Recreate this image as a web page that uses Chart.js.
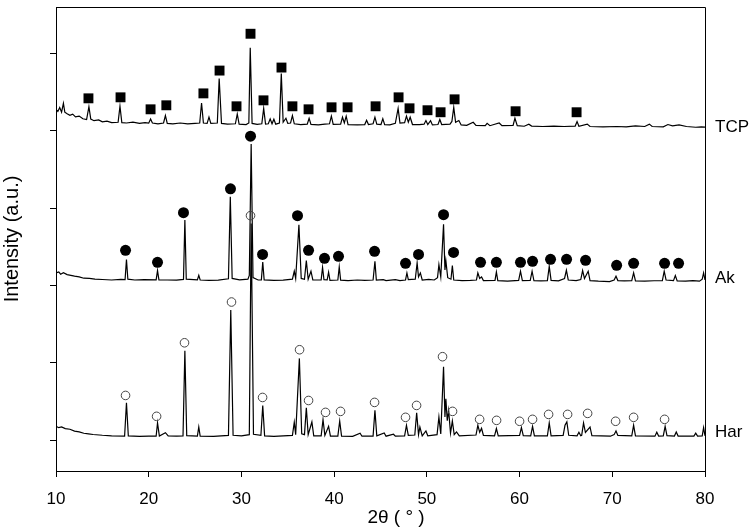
<!DOCTYPE html>
<html>
<head>
<meta charset="utf-8">
<script src="https://cdn.jsdelivr.net/npm/chart.js@4"></script>
<style>
  body { margin: 0; background: #fff; }
  canvas { display: block; }
</style>
</head>
<body>
<canvas id="xrd" width="754" height="530"></canvas>
<script>
// XRD patterns: [2theta, intensity (a.u.)]
const harPattern = [[10,578],[10.3,560],[10.6,570],[11,548],[11.5,540],[12,515],[12.5,505],[13,488],[13.5,480],[14,472],[15,462],[16,455],[17.4,452],[17.6,883],[17.8,455],[19,448],[20,452],[20.8,450],[20.95,621],[21.15,452],[21.8,495],[22.1,455],[23,450],[23.7,455],[23.9,1555],[24.1,458],[25.25,452],[25.4,570],[25.55,450],[27,448],[28.6,460],[28.85,2082],[29.1,462],[30,455],[30.85,470],[31.05,3200],[31.3,475],[32.1,460],[32.3,848],[32.5,455],[33.5,448],[35.5,460],[35.7,630],[35.85,470],[36.25,1456],[36.5,480],[36.8,470],[37.0,818],[37.2,470],[37.6,634],[37.8,455],[38.6,455],[38.8,664],[39.0,460],[39.4,578],[39.6,452],[40.4,452],[40.6,646],[40.8,452],[42,448],[42.8,488],[43,450],[44.2,452],[44.4,784],[44.6,455],[45.4,492],[45.6,450],[46.4,475],[46.6,450],[47.6,455],[47.8,591],[48,460],[48.7,465],[48.9,754],[49.1,470],[49.25,569],[49.5,455],[49.9,518],[50.1,455],[51.1,470],[51.3,698],[51.5,480],[51.8,1349],[51.95,700],[52.05,934],[52.2,650],[52.35,784],[52.55,490],[52.75,646],[52.95,470],[53.2,505],[53.5,455],[55.3,465],[55.5,591],[55.7,500],[55.9,553],[56.1,460],[57.3,455],[57.5,549],[57.7,455],[60,460],[60.2,561],[60.4,458],[61.2,455],[61.4,578],[61.6,455],[63,455],[63.2,621],[63.4,455],[64.7,460],[64.9,591],[65.1,634],[65.3,462],[66.2,455],[66.4,501],[66.6,455],[66.7,460],[66.9,621],[67.1,500],[67.6,569],[67.8,458],[69.8,450],[70.2,470],[70.4,518],[70.6,460],[72.1,455],[72.3,591],[72.5,455],[74.6,450],[74.8,501],[75,452],[75.5,455],[75.7,578],[75.9,458],[76.7,452],[76.9,505],[77.1,452],[78.8,452],[79.0,490],[79.2,452],[79.7,455],[79.85,561],[80,455]];

const akPattern = [[10,2561],[10.3,2575],[10.5,2545],[10.8,2565],[11.2,2540],[11.6,2530],[12,2519],[12.5,2510],[13,2493],[13.6,2490],[14.2,2480],[15,2476],[16,2470],[17.0,2478],[17.45,2476],[17.6,2733],[17.75,2480],[18.5,2470],[19.5,2475],[20.8,2472],[20.95,2592],[21.1,2472],[22.0,2470],[23.0,2468],[23.75,2478],[23.9,3247],[24.05,2480],[25.25,2472],[25.4,2531],[25.55,2470],[26.5,2465],[27.5,2468],[28.6,2485],[28.8,3547],[29.0,2490],[29.8,2472],[30.7,2480],[30.85,2530],[31.05,4228],[31.25,2500],[31.8,2470],[32.15,2472],[32.3,2702],[32.45,2472],[33.5,2465],[34.5,2468],[35.5,2480],[35.7,2583],[35.85,2490],[36.2,3183],[36.45,2490],[36.8,2480],[37.0,2720],[37.2,2480],[37.5,2583],[37.7,2470],[38.6,2472],[38.75,2634],[38.9,2475],[39.25,2472],[39.4,2570],[39.55,2465],[40.4,2470],[40.55,2638],[40.7,2468],[41.5,2462],[42.5,2470],[43.3,2465],[44.2,2470],[44.4,2711],[44.55,2468],[45.3,2475],[45.6,2462],[46.6,2475],[47.1,2462],[47.7,2470],[47.85,2561],[48.0,2475],[48.75,2480],[48.95,2690],[49.1,2510],[49.3,2561],[49.5,2470],[50.2,2478],[50.8,2470],[51.15,2500],[51.3,2669],[51.5,2510],[51.8,3191],[51.95,2600],[52.05,2720],[52.25,2500],[52.6,2480],[52.75,2656],[52.9,2470],[53.8,2462],[54.7,2465],[55.35,2470],[55.5,2561],[55.7,2490],[55.9,2510],[56.1,2462],[57.35,2465],[57.5,2574],[57.65,2462],[58.7,2455],[59.9,2465],[60.1,2583],[60.3,2462],[61.15,2465],[61.35,2583],[61.55,2460],[62.3,2458],[63.0,2462],[63.2,2647],[63.4,2465],[64.2,2458],[64.85,2490],[65.05,2596],[65.25,2470],[66.1,2462],[66.6,2475],[66.8,2592],[67.0,2490],[67.4,2583],[67.6,2462],[68.5,2455],[69.7,2450],[70.2,2470],[70.4,2519],[70.6,2462],[71.3,2458],[72.1,2462],[72.3,2561],[72.5,2458],[73.5,2455],[74.5,2460],[75.4,2462],[75.6,2583],[75.8,2470],[76.6,2462],[76.8,2528],[77.0,2458],[77.9,2455],[78.7,2462],[79.4,2455],[79.7,2480],[79.85,2561],[80,2470]];

const tcpPattern = [[10,4677],[10.2,4650],[10.4,4700],[10.6,4640],[10.8,4755],[10.95,4640],[11.2,4620],[11.5,4600],[11.8,4615],[12.1,4580],[12.5,4590],[12.9,4555],[13.3,4545],[13.55,4712],[13.75,4550],[14.1,4530],[14.6,4540],[15,4515],[15.5,4525],[16,4505],[16.7,4510],[16.9,4716],[17.1,4505],[17.6,4500],[18.3,4510],[19,4495],[19.6,4505],[20.0,4498],[20.2,4553],[20.4,4500],[21.0,4490],[21.6,4500],[21.8,4597],[22.0,4495],[22.6,4490],[23.4,4500],[24.2,4488],[25.0,4495],[25.5,4500],[25.7,4758],[25.9,4500],[26.3,4495],[26.5,4575],[26.7,4495],[27.4,4500],[27.6,5076],[27.85,4495],[28.5,4485],[29.35,4490],[29.55,4617],[29.75,4485],[30.5,4480],[30.8,4500],[30.95,5474],[31.15,4495],[31.7,4482],[32.2,4490],[32.4,4690],[32.6,4485],[32.9,4490],[33.1,4553],[33.3,4490],[33.5,4549],[33.7,4485],[34.1,4500],[34.3,5140],[34.5,4510],[34.8,4562],[35.0,4495],[35.3,4500],[35.5,4597],[35.7,4490],[36.4,4480],[37.1,4485],[37.3,4562],[37.5,4482],[38.3,4475],[39.0,4485],[39.5,4490],[39.7,4588],[39.9,4482],[40.7,4485],[40.9,4575],[41.1,4500],[41.3,4588],[41.5,4480],[42.5,4475],[43.3,4480],[43.5,4536],[43.7,4480],[44.2,4490],[44.4,4575],[44.6,4485],[45.05,4480],[45.25,4555],[45.45,4478],[46.0,4475],[46.6,4495],[46.9,4690],[47.1,4500],[47.6,4505],[47.8,4588],[48.0,4510],[48.2,4575],[48.45,4480],[49.2,4478],[49.7,4485],[49.9,4532],[50.1,4480],[50.4,4530],[50.6,4475],[51.2,4480],[51.4,4545],[51.6,4480],[52.5,4485],[52.7,4520],[52.9,4703],[53.1,4510],[53.45,4532],[53.7,4475],[54.3,4470],[55.0,4510],[55.3,4470],[56.3,4465],[56.5,4495],[56.8,4465],[57.8,4500],[58.1,4465],[59.3,4468],[59.5,4562],[59.75,4465],[60.5,4458],[61.0,4485],[61.3,4460],[62.5,4455],[63.7,4460],[64.8,4455],[66.0,4460],[66.2,4519],[66.4,4458],[67.3,4485],[67.6,4455],[69.0,4450],[70.5,4455],[71.5,4450],[72.5,4462],[73.5,4455],[74.0,4485],[74.3,4455],[75.5,4450],[76.0,4480],[76.5,4462],[77.2,4475],[78.0,4455],[79.0,4445],[79.6,4450],[80,4446]];

// phase markers above the peaks
const harMarks = [[17.5,977],[20.85,707],[23.86,1658],[28.93,2185],[30.98,3302],[32.28,951],[36.27,1568],[37.24,912],[39.07,758],[40.69,771],[44.36,887],[47.7,694],[48.89,848],[51.69,1478],[52.77,771],[55.69,668],[57.52,655],[60.0,643],[61.4,668],[63.13,732],[65.18,732],[67.34,745],[70.36,643],[72.3,694],[75.64,668]];
const akMarks = [[17.5,2853],[20.95,2699],[23.75,3341],[28.82,3649],[30.98,4330],[32.28,2801],[36.05,3302],[37.24,2853],[38.96,2750],[40.47,2776],[44.36,2840],[47.7,2686],[49.1,2801],[51.8,3315],[52.88,2827],[55.79,2699],[57.5,2699],[60.1,2699],[61.4,2711],[63.34,2737],[65.07,2737],[67.12,2724],[70.47,2660],[72.3,2686],[75.64,2686],[77.15,2686]];
const tcpMarks = [[13.5,4819],[16.96,4832],[20.2,4677],[21.9,4729],[25.9,4883],[27.64,5178],[29.47,4716],[30.98,5654],[32.38,4793],[34.32,5217],[35.5,4716],[37.24,4677],[39.72,4703],[41.45,4703],[44.47,4716],[46.95,4832],[48.13,4690],[50.07,4665],[51.48,4639],[52.99,4806],[59.57,4652],[66.15,4639]];

const sampleNames = ['TCP', 'Ak', 'Har'];
const sampleLevels = [4446, 2486, 501];
const yTickValues = [400, 1400, 2400, 3400, 4400, 5400];

const FONT = '"Liberation Sans", Arial, sans-serif';

function toXY(arr) {
    return arr.map(p => ({ x: p[0], y: p[1] }));
}

function traceSet(arr) {
    return {
        data: toXY(arr),
        showLine: true,
        borderColor: '#000',
        borderWidth: 1.2,
        pointRadius: 0,
        tension: 0
    };
}

// frame, sample names and x title
const extrasPlugin = {
    id: 'extras',
    afterDraw(chart) {
        const ctx = chart.ctx;
        const a = chart.chartArea;
        const y = chart.scales.y;
        ctx.save();
        ctx.strokeStyle = '#000';
        ctx.lineWidth = 1;
        ctx.beginPath();
        ctx.moveTo(Math.round(a.left) + 0.5, Math.round(a.top) + 0.5);
        ctx.lineTo(Math.round(a.right) + 0.5, Math.round(a.top) + 0.5);
        ctx.lineTo(Math.round(a.right) + 0.5, Math.round(a.bottom) + 0.5);
        ctx.stroke();

        ctx.fillStyle = '#000';
        ctx.font = '17px ' + FONT;
        ctx.textAlign = 'left';
        ctx.textBaseline = 'middle';
        sampleNames.forEach((name, i) => {
            ctx.fillText(name, a.right + 10, y.getPixelForValue(sampleLevels[i]));
        });

        ctx.font = '19px ' + FONT;
        ctx.textAlign = 'center';
        ctx.fillText('2θ ( ° )', 396, 518);
        ctx.restore();
    }
};

const chart = new Chart(document.getElementById('xrd'), {
    type: 'scatter',
    data: {
        datasets: [
            { data: toXY(tcpMarks), pointStyle: 'rect', pointRadius: 7, backgroundColor: '#000', borderColor: '#000', borderWidth: 0 },
            { data: toXY(akMarks), pointStyle: 'circle', pointRadius: 5.5, backgroundColor: '#000', borderColor: '#000', borderWidth: 0 },
            { data: toXY(harMarks), pointStyle: 'circle', pointRadius: 4.3, backgroundColor: 'rgba(0,0,0,0)', borderColor: '#444', borderWidth: 1 },
            traceSet(tcpPattern),
            traceSet(akPattern),
            traceSet(harPattern)
        ]
    },
    options: {
        responsive: false,
        animation: false,
        layout: { padding: { left: 0, right: 49, top: 4, bottom: 0 } },
        plugins: {
            legend: { display: false },
            tooltip: { enabled: false }
        },
        scales: {
            x: {
                type: 'linear',
                min: 10,
                max: 80,
                afterFit(scale) { scale.height = 59; },
                ticks: {
                    stepSize: 10,
                    padding: 12,
                    color: '#000',
                    font: { family: FONT, size: 17 }
                },
                grid: { display: true, drawOnChartArea: false, drawTicks: true, tickLength: 6, color: '#000' },
                border: { display: true, color: '#000', width: 1 }
            },
            y: {
                min: 0,
                max: 6000,
                afterFit(scale) { scale.width = 56; },
                afterBuildTicks(scale) {
                    scale.ticks = yTickValues.map(v => ({ value: v }));
                },
                ticks: { display: false },
                grid: { display: true, drawOnChartArea: false, drawTicks: true, tickLength: 6, color: '#000' },
                border: { display: true, color: '#000', width: 1 },
                title: {
                    display: true,
                    text: 'Intensity (a.u.)',
                    color: '#000',
                    font: { family: FONT, size: 20 },
                    padding: { top: 0, bottom: 0 }
                }
            }
        }
    },
    plugins: [extrasPlugin]
});
</script>
</body>
</html>
